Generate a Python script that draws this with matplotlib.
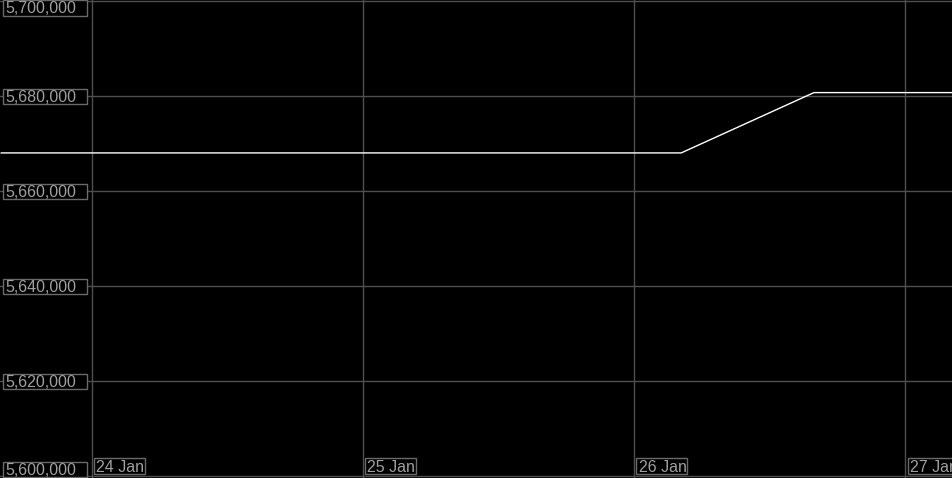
import matplotlib
matplotlib.use("Agg")
import matplotlib.pyplot as plt
import matplotlib.dates as mdates
import pandas as pd
from matplotlib.patches import Rectangle
from matplotlib.transforms import IdentityTransform

# data
times = ["2024-01-23 16:00", "2024-01-24 04:00", "2024-01-24 16:00", "2024-01-25 04:00",
         "2024-01-25 16:00", "2024-01-26 04:10", "2024-01-26 15:55", "2024-01-27 04:10"]
values = [5668100, 5668100, 5668100, 5668100, 5668100, 5668100, 5680800, 5680800]

y_ticks = [5600000, 5620000, 5640000, 5660000, 5680000, 5700000]
x_ticks = ["2024-01-24", "2024-01-25", "2024-01-26", "2024-01-27"]
x_labels = ["24 Jan", "25 Jan", "26 Jan", "27 Jan"]

GRID = "#4f4f4f"
TXT = "#a0a0a0"
BOX = "#6a6a6a"

plt.rcParams["font.family"] = ["Liberation Sans", "DejaVu Sans"]

fig = plt.figure(figsize=(9.53, 4.78), dpi=100, facecolor="black")
ax = fig.add_axes([0, 0, 1, 1])
ax.set_facecolor("black")

t = pd.to_datetime(times)
ax.plot(t, values, color="white", lw=1.0)

xt = pd.to_datetime(x_ticks)
day0 = mdates.date2num(xt[0])
ax.set_xlim(day0 - 0.338, day0 + 3.176)
ax.set_ylim(5599650, 5700300)

ax.set_xticks(xt)
ax.set_yticks(y_ticks)
ax.grid(True, color=GRID, lw=1.0)
ax.tick_params(length=0, labelleft=False, labelbottom=False)
for s in ax.spines.values():
    s.set_visible(False)

W, H = fig.bbox.width, fig.bbox.height
px = ax.transData.transform
fs = 11.5

# y labels, boxed, on the left
for v in y_ticks:
    yc = px((day0, v))[1]
    bot = yc - 7.75
    if bot + 15.5 > H:
        bot = H - 15.5
    if bot < 1:
        bot = 1
    fig.add_artist(Rectangle((3.3, bot), 84, 15.5, transform=IdentityTransform(),
                             facecolor="black", edgecolor=BOX, lw=1.0, zorder=5))
    fig.text(5.5, bot + 2.2, f"{v:,}", transform=IdentityTransform(), color=TXT,
             fontsize=fs, va="baseline", ha="left", zorder=6)

# x labels, boxed, along the bottom (the last one runs off the right edge, as in the source)
for d, lab in zip(xt, x_labels):
    xg = px((mdates.date2num(d), 5600000))[0]
    fig.add_artist(Rectangle((xg + 2.3, 4), 51, 15.7, transform=IdentityTransform(),
                             facecolor="black", edgecolor=BOX, lw=1.0, zorder=5))
    fig.text(xg + 4.5, 6.3, lab, transform=IdentityTransform(), color=TXT,
             fontsize=fs, va="baseline", ha="left", zorder=6)

fig.savefig("out.png", dpi=100, facecolor="black")
